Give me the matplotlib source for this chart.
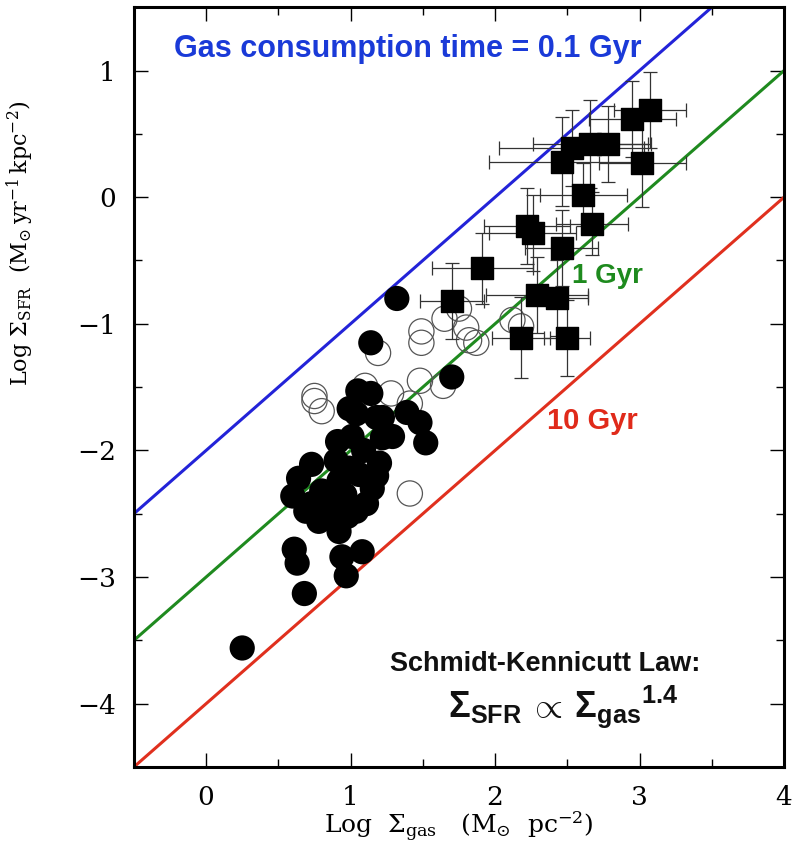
import matplotlib
matplotlib.use("Agg")
import matplotlib.pyplot as plt
import numpy as np

plt.rcParams["mathtext.fontset"] = "custom"
plt.rcParams["mathtext.rm"] = "DejaVu Serif"
plt.rcParams["mathtext.it"] = "DejaVu Serif:italic"
plt.rcParams["mathtext.bf"] = "Liberation Sans:bold"

# filled circles: normal spirals (log gas, log SFR)
spiral_x = [1.32, 1.14, 1.70, 1.05, 1.14, 0.99, 1.04, 1.18, 1.22, 1.39, 1.48, 1.52,
            0.91, 1.01, 1.22, 1.29, 1.09, 0.73, 0.64, 0.90, 0.99, 1.20, 0.60, 0.80,
            0.92, 1.06, 1.15, 0.69, 0.87, 1.04, 1.11, 0.78, 0.92, 0.61, 0.63, 0.94,
            1.08, 0.97, 0.68, 0.25, 0.98, 0.90, 0.73, 0.96, 1.18]
spiral_y = [-0.80, -1.15, -1.42, -1.53, -1.55, -1.67, -1.71, -1.74, -1.74, -1.70, -1.78, -1.94,
            -1.93, -1.89, -1.90, -1.89, -2.00, -2.11, -2.22, -2.08, -2.14, -2.10, -2.36, -2.32,
            -2.24, -2.19, -2.30, -2.48, -2.45, -2.48, -2.42, -2.56, -2.64, -2.78, -2.89, -2.84,
            -2.80, -2.99, -3.13, -3.56, -2.52, -2.55, -2.42, -2.35, -2.20]

# open circles: circumnuclear regions
nuc_x = [1.19, 1.49, 1.49, 1.65, 1.75, 1.80, 1.87, 1.82, 1.48, 1.64, 1.28, 1.10,
         0.75, 0.75, 0.80, 1.41, 1.41, 2.12, 2.18]
nuc_y = [-1.23, -1.06, -1.15, -0.96, -0.88, -1.03, -1.15, -1.13, -1.45, -1.49, -1.55, -1.49,
         -1.57, -1.61, -1.69, -1.63, -2.34, -0.97, -1.02]

# filled squares: starbursts with error bars
burst_x = [3.07, 2.95, 2.53, 2.46, 2.66, 2.78, 3.02, 2.61, 2.67, 2.22, 2.26, 1.91,
           2.46, 1.70, 2.29, 2.43, 2.18, 2.50]
burst_y = [0.69, 0.62, 0.39, 0.28, 0.42, 0.42, 0.27, 0.02, -0.21, -0.23, -0.28, -0.56,
           -0.40, -0.82, -0.77, -0.80, -1.11, -1.11]
burst_xerr = [0.25, 0.30, 0.50, 0.50, 0.40, 0.30, 0.30, 0.30, 0.25, 0.30, 0.30, 0.35,
              0.25, 0.22, 0.35, 0.21, 0.20, 0.16]
burst_yerr = [0.30, 0.30, 0.30, 0.35, 0.35, 0.30, 0.35, 0.25, 0.25, 0.30, 0.30, 0.28,
              0.30, 0.30, 0.30, 0.30, 0.32, 0.30]

# consumption time lines: log SFR = log gas + 6 - 9 - log(t/Gyr)
times = [0.1, 1, 10]
line_colors = ["#2323d8", "#1f8a1f", "#e0301e"]

fig = plt.figure(figsize=(7.92, 8.48), dpi=100)
ax = fig.add_axes([0.169, 0.0955, 0.821, 0.896])

xs = np.array([-0.5, 4.0])
for t, c in zip(times, line_colors):
    ax.plot(xs, xs - 3 - np.log10(t), color=c, lw=2.2, zorder=2)

ax.scatter(nuc_x, nuc_y, s=330, facecolors="none", edgecolors="#555555", linewidths=0.9, zorder=3)
ax.scatter(spiral_x, spiral_y, s=330, color="black", edgecolors="none", zorder=4)
ax.errorbar(burst_x, burst_y, xerr=burst_xerr, yerr=burst_yerr, fmt="none",
            ecolor="#333333", elinewidth=0.9, capsize=5, capthick=0.9, zorder=5)
ax.scatter(burst_x, burst_y, s=260, marker="s", color="black", zorder=6)

ax.set_xlim(-0.5, 4)
ax.set_ylim(-4.5, 1.5)
ax.set_xticks([0, 1, 2, 3, 4])
ax.set_yticks([-4, -3, -2, -1, 0, 1])
ax.set_xticks(np.arange(-0.5, 4.01, 0.5), minor=True)
ax.set_yticks(np.arange(-4.5, 1.51, 0.5), minor=True)
ax.tick_params(which="both", direction="in", top=True, right=True, width=1.0)
ax.tick_params(which="major", length=10, labelsize=19, pad=13)
ax.tick_params(which="minor", length=6)
for lab in ax.get_xticklabels() + ax.get_yticklabels():
    lab.set_family("DejaVu Serif")
ax.yaxis.set_major_formatter(matplotlib.ticker.FuncFormatter(lambda v, p: f"{int(v)}".replace("-", "\u2212")))
for sp in ax.spines.values():
    sp.set_linewidth(2.2)

ax.set_xlabel(r"$\mathrm{Log}\ \ \Sigma_{\mathrm{gas}}\ \ \ (\mathrm{M}_{\odot}\ \ \mathrm{pc}^{-2})$",
              fontsize=18, labelpad=0)
ax.set_ylabel(r"$\mathrm{Log}\ \Sigma_{\mathrm{SFR}}\ \ (\mathrm{M}_{\odot}\,\mathrm{yr}^{-1}\,\mathrm{kpc}^{-2})$",
              fontsize=16)
ax.yaxis.set_label_coords(-0.15, 0.69)

ax.text(-0.22, 1.17, "Gas consumption time = 0.1 Gyr", color="#1a3ad8", fontsize=22,
        fontweight="bold", family="Liberation Sans", va="center", ha="left")
ax.text(2.53, -0.62, "1 Gyr", color="#1e8a1e", fontsize=20, fontweight="bold",
        family="Liberation Sans", va="center", ha="left")
ax.text(2.36, -1.77, "10 Gyr", color="#e02a1a", fontsize=21, fontweight="bold",
        family="Liberation Sans", va="center", ha="left")
ax.text(3.42, -3.69, "Schmidt-Kennicutt Law:", color="#111111", fontsize=19.5, fontweight="bold",
        family="Liberation Sans", va="center", ha="right")
ax.text(2.47, -4.02, r"$\mathbf{\Sigma_{SFR}\,\propto\,{\Sigma_{gas}}^{1.4}}$", color="#111111",
        fontsize=26, va="center", ha="center")

fig.savefig("out.png", dpi=100)
